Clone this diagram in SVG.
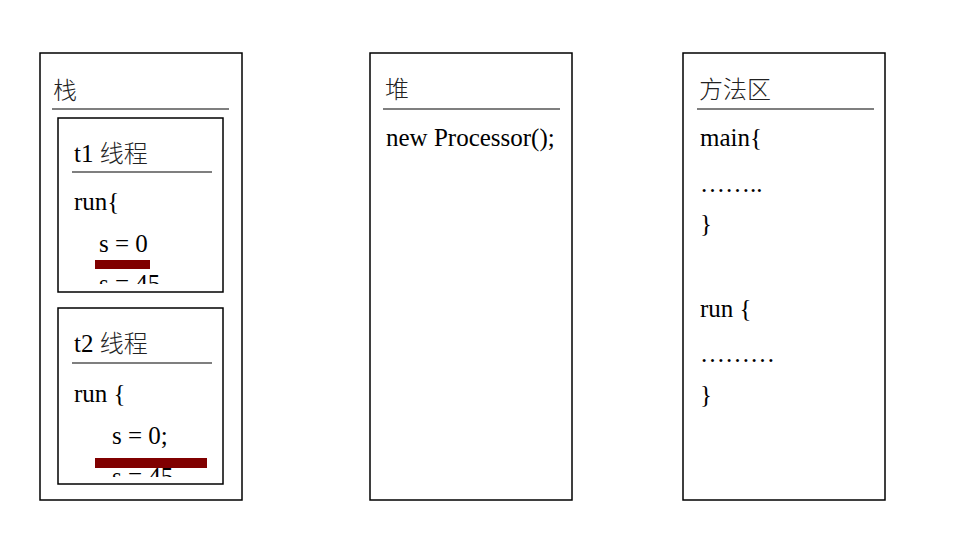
<svg xmlns="http://www.w3.org/2000/svg" width="957" height="533" viewBox="0 0 957 533">
<style>
.box{fill:#fff;stroke:#000;stroke-width:1.5}
.sep{stroke:#000;stroke-width:1.2}
.t{font-family:"Liberation Serif","Noto Sans CJK SC",serif;font-size:25px;fill:#000}
.cjk{font-family:"Noto Sans CJK SC",sans-serif;font-size:24px;fill:#222;font-weight:300}
.hl{fill:#800000}
</style>
<defs>
<clipPath id="c1"><rect x="58" y="118" width="165" height="166"/></clipPath>
<clipPath id="c2"><rect x="58" y="308" width="165" height="169"/></clipPath>
</defs>
<rect width="957" height="533" fill="#fff"/>
<g id="stack">
<rect class="box" x="40" y="53" width="202" height="447"/>
<text class="cjk" x="53" y="99">栈</text>
<line class="sep" x1="52" y1="109" x2="229" y2="109"/>
</g>
<g id="t1">
<rect class="box" x="58" y="118" width="165" height="174"/>
<text class="t" x="74" y="162">t1 <tspan class="cjk">线程</tspan></text>
<line class="sep" x1="72" y1="172" x2="212" y2="172"/>
<text class="t" x="74" y="210">run{</text>
<text class="t" x="99" y="252">s = 0</text>
<rect class="hl" x="95" y="260" width="55" height="9"/>
<text class="t" x="99" y="292" clip-path="url(#c1)">s = 45</text>
</g>
<g id="t2">
<rect class="box" x="58" y="308" width="165" height="176"/>
<text class="t" x="74" y="352">t2 <tspan class="cjk">线程</tspan></text>
<line class="sep" x1="72" y1="363" x2="212" y2="363" stroke-width="2"/>
<text class="t" x="74" y="402">run {</text>
<text class="t" x="112" y="444">s = 0;</text>
<rect class="hl" x="95" y="458" width="112" height="10"/>
<text class="t" x="112" y="485" clip-path="url(#c2)">s = 45</text>
</g>
<g id="heap">
<rect class="box" x="370" y="53" width="202" height="447"/>
<text class="cjk" x="385" y="98">堆</text>
<line class="sep" x1="383" y1="109" x2="560" y2="109"/>
<text class="t" x="386" y="146">new Processor();</text>
</g>
<g id="method">
<rect class="box" x="683" y="53" width="202" height="447"/>
<text class="cjk" x="699" y="98">方法区</text>
<line class="sep" x1="697" y1="109" x2="874" y2="109"/>
<text class="t" x="700" y="146">main{</text>
<text class="t" x="700" y="192">……..</text>
<text class="t" x="700" y="232">}</text>
<text class="t" x="700" y="317">run {</text>
<text class="t" x="700" y="362">………</text>
<text class="t" x="700" y="403">}</text>
</g>
</svg>
